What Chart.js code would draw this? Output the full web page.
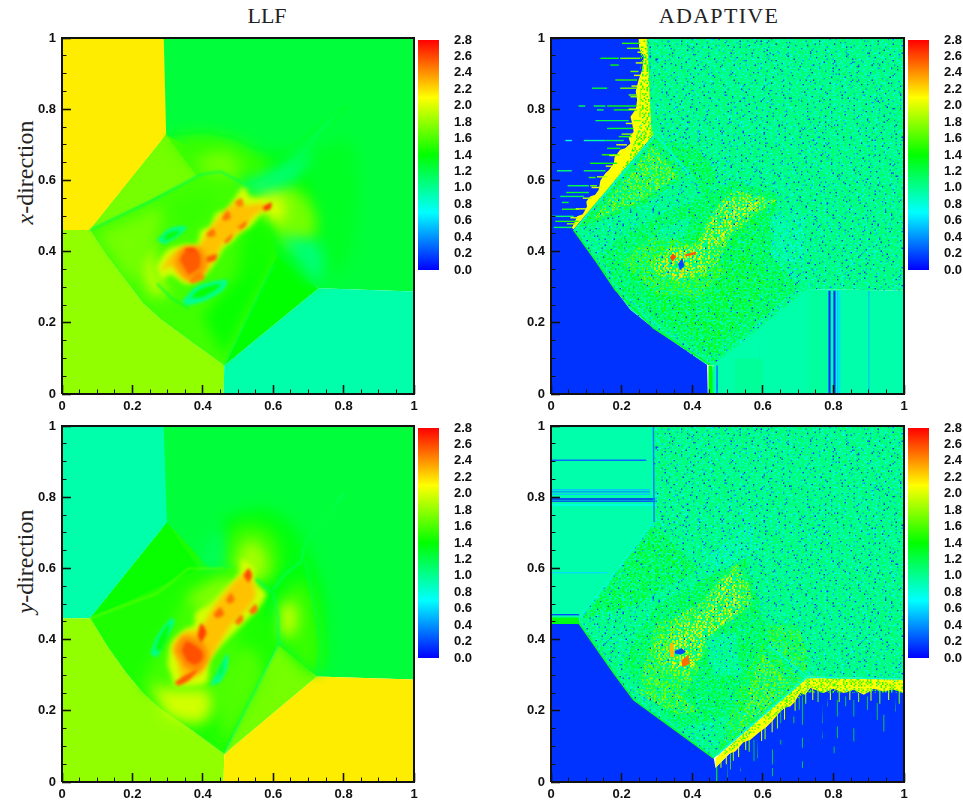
<!DOCTYPE html>
<html><head><meta charset="utf-8">
<script src="https://cdn.jsdelivr.net/npm/chart.js@4"></script>
<style>
html,body{margin:0;background:#fff;width:963px;height:800px;overflow:hidden}
canvas{position:absolute}
.t{position:absolute;font-family:"Liberation Serif",serif;color:#222;white-space:nowrap}
</style></head><body>
<div class="t" style="left:167px;width:200px;top:3px;text-align:center;font-size:22px">LLF</div>
<div class="t" style="left:619px;width:200px;top:3px;text-align:center;font-size:22px;letter-spacing:1.3px">ADAPTIVE</div>
<div class="t" style="left:-35px;width:120px;top:159px;text-align:center;font-size:24px;transform:rotate(-90deg)"><i>x</i>-direction</div>
<div class="t" style="left:-35px;width:120px;top:548px;text-align:center;font-size:24px;transform:rotate(-90deg)"><i>y</i>-direction</div>
<script>
// ---------- axes ----------
const majorTicks=[0,.2,.4,.6,.8,1];
const minorTicks=[.05,.1,.15,.25,.3,.35,.45,.5,.55,.65,.7,.75,.85,.9,.95];
const barTicks=[0,.2,.4,.6,.8,1,1.2,1.4,1.6,1.8,2,2.2,2.4,2.6,2.8];
const barRange=[0,2.8];
const cmapStops=[[0,[0,0,255]],[.7,[0,255,255]],[1.4,[0,255,0]],[2.1,[255,255,0]],[2.8,[255,0,0]]];
const frameX=[0,0,1,1,0], frameY=[0,1,1,0,0];
// ---------- LLF x-direction: [value, [x,y,x,y...]] ----------
const llfXFlat=[
[1.24,[.28,1,1,1,1,.288,.729,.297,.45,.5,.28,.72]],
[2.15,[0,1,.289,1,.296,.728,.079,.461,0,.461]],
[1.8,[0,.461,.079,.461,.13,.385,.18,.32,.23,.255,.28,.21,.37,.145,.461,.08,.459,0,0,0]],
[.93,[.459,0,.461,.08,.729,.297,1,.288,1,0]],
[1.58,[.296,.728,.079,.461,.13,.385,.18,.32,.23,.255,.28,.21,.37,.145,.461,.08,.61,.39,.56,.56,.5,.62]],
[1.72,[.296,.728,.079,.461,.384,.611]],
[1.4,[.461,.08,.61,.39,.729,.297]],
];
const llfXSoft=[
[1.36,[.5,.66,.68,.66,.76,.45,.72,.31,.62,.38,.54,.56]],
[1.3,[.7,.68,.82,.7,.82,.4,.74,.32]],
[1.55,[.3,.72,.4,.73,.5,.71,.56,.67,.6,.63,.52,.6,.39,.62]],
[1.72,[.38,.66,.46,.68,.5,.65,.5,.61,.4,.62]],
[1.95,[.215,.37,.255,.42,.27,.34,.3,.28,.25,.28]],
[1.72,[.1,.45,.2,.49,.28,.52,.26,.42,.2,.31]],
[1.55,[.3,.52,.38,.56,.44,.54,.36,.44]],
[1.72,[.54,.6,.66,.58,.72,.5,.7,.42,.63,.42,.58,.5]],
[2.0,[.57,.585,.63,.545,.62,.48,.57,.5]],
[1.08,[.615,.44,.73,.31,.735,.42,.66,.44]],
[1.45,[.51,.45,.56,.49,.6,.44,.6,.37,.5,.33]],
[1.42,[.4,.22,.47,.3,.55,.37,.6,.38,.461,.1]],
[1.08,[.5,.585,.6,.63,.7,.675,.66,.6,.56,.56]],
];
const llfXBand=[
[1.98,[.268,.358,.3,.405,.35,.42,.384,.422,.395,.46,.42,.47,.44,.51,.465,.515,.49,.55,.516,.582,.535,.555,.582,.548,.618,.508,.575,.512,.535,.47,.507,.455,.485,.43,.459,.41,.44,.377,.402,.33,.355,.308,.308,.335,.282,.32]],
[2.27,[.28,.345,.31,.39,.35,.41,.385,.41,.41,.45,.45,.5,.49,.535,.53,.53,.57,.535,.58,.52,.55,.505,.51,.46,.46,.425,.43,.375,.395,.335,.35,.32,.31,.36]],
[2.4,[.32,.37,.34,.41,.395,.41,.41,.35,.36,.32,.33,.35]],
];
const llfXFine=[
[2.55,[.335,.377,.35,.4,.39,.395,.39,.355,.36,.335]],
[2.6,[.35,.41,.375,.41,.385,.395,.35,.4]],
[2.55,[.41,.385,.44,.392,.435,.375,.41,.37]],
[2.48,[.41,.45,.43,.465,.435,.445,.415,.44]],
[2.48,[.455,.495,.47,.515,.48,.495,.46,.485]],
[2.45,[.49,.54,.51,.55,.515,.53,.5,.525]],
[2.65,[.57,.525,.595,.538,.592,.52,.575,.515]],
[2.5,[.5,.47,.525,.485,.52,.47,.505,.462]],
[2.5,[.46,.43,.485,.45,.48,.435,.465,.422]],
[2.45,[.36,.318,.39,.345,.405,.325,.37,.31]],
[1.02,[.27,.433,.308,.466,.355,.47,.327,.44,.289,.42]],
[1.42,[.288,.44,.31,.455,.335,.458,.315,.44,.295,.432]],
[1.0,[.341,.26,.384,.302,.469,.321,.459,.293,.402,.26,.355,.248]],
[1.42,[.365,.27,.39,.293,.45,.31,.44,.295,.4,.272]],
];
const llfXTrace=[
[1.18,[.079,.461,.25,.54,.39,.615,.45,.625,.52,.59]],
[1.3,[.296,.728,.41,.737,.49,.72,.55,.69,.615,.68,.665,.7,.735,.755,.8,.805]],
[1.15,[.52,.585,.6,.62,.68,.67,.75,.76,.8,.8]],
[1.25,[.27,.31,.31,.27,.36,.24]],
[1.25,[.6,.36,.57,.3,.461,.08]],
[1.3,[.77,.76,.79,.79,.82,.81]],
];
// ---------- LLF y-direction ----------
const llfYFlat=[
[1.24,[.28,1,1,1,1,.288,.724,.296,.45,.5,.28,.72]],
[.93,[0,1,.289,1,.298,.728,.08,.46,0,.46]],
[1.8,[0,.46,.08,.46,.13,.38,.18,.31,.23,.25,.28,.205,.37,.145,.461,.079,.459,0,0,0]],
[2.15,[.459,0,.461,.079,.724,.296,1,.288,1,0]],
[1.48,[.298,.728,.08,.46,.13,.38,.18,.31,.23,.25,.28,.205,.37,.145,.461,.079,.615,.385,.56,.6,.42,.6]],
[1.42,[.298,.728,.08,.46,.39,.6]],
[1.72,[.461,.079,.724,.296,.615,.385]],
];
const llfYSoft=[
[1.36,[.5,.62,.45,.72,.6,.76,.72,.6,.75,.4,.72,.31,.62,.4]],
[1.55,[.44,.62,.5,.72,.6,.7,.62,.6,.58,.56,.5,.58]],
[1.85,[.49,.61,.53,.68,.58,.64,.57,.57,.52,.58]],
[1.15,[.395,.6,.42,.68,.45,.72,.46,.6]],
[1.55,[.62,.39,.72,.31,.73,.42,.69,.56,.63,.54]],
[1.95,[.62,.41,.66,.42,.66,.5,.62,.5]],
[1.58,[.22,.27,.3,.42,.36,.52,.5,.55,.5,.4,.47,.2,.35,.18]],
[1.98,[.25,.27,.32,.26,.42,.25,.4,.17,.3,.18]],
[1.75,[.35,.52,.47,.58,.5,.54,.42,.46]],
[1.62,[.46,.1,.57,.3,.52,.38,.44,.28]],
];
const llfYBand=[
[1.98,[.3,.33,.31,.39,.35,.43,.375,.44,.38,.475,.42,.5,.47,.55,.505,.59,.51,.625,.545,.6,.55,.56,.58,.53,.56,.49,.51,.44,.44,.37,.42,.34,.41,.28,.36,.27,.32,.27]],
[2.27,[.33,.33,.315,.38,.35,.42,.39,.43,.43,.49,.47,.54,.51,.58,.53,.585,.55,.53,.53,.49,.48,.44,.43,.36,.41,.33,.39,.3,.34,.28]],
[2.42,[.32,.37,.345,.41,.4,.39,.415,.35,.39,.31,.35,.32]],
];
const llfYFine=[
[2.58,[.34,.37,.355,.395,.395,.37,.4,.35,.38,.33,.355,.34]],
[2.62,[.385,.41,.395,.445,.41,.42,.395,.39]],
[2.55,[.32,.28,.35,.3,.385,.315,.36,.285,.33,.27]],
[2.5,[.43,.47,.45,.49,.46,.47,.44,.46]],
[2.48,[.465,.51,.48,.53,.49,.51,.475,.5]],
[2.6,[.515,.58,.53,.6,.54,.58,.53,.56]],
[2.5,[.53,.48,.55,.5,.555,.48,.54,.47]],
[2.5,[.49,.45,.51,.47,.515,.455,.5,.44]],
[1.02,[.25,.36,.27,.41,.31,.46,.32,.45,.29,.39,.27,.35]],
[1.42,[.265,.37,.28,.41,.305,.445,.295,.4,.28,.37]],
[1.0,[.42,.27,.44,.31,.47,.36,.47,.32,.45,.28]],
[1.42,[.44,.29,.45,.32,.46,.345,.455,.31]],
];
const llfYTrace=[
[1.15,[.461,.08,.53,.22,.615,.385,.615,.46,.6,.53,.55,.57]],
[1.1,[.6,.54,.63,.58,.68,.62,.69,.67,.76,.76,.8,.81]],
[1.3,[.61,.57,.67,.64,.78,.79]],
[1.2,[.69,.62,.715,.51,.735,.39,.727,.3]],
[1.65,[.08,.46,.27,.53,.36,.6,.46,.6]],
];
// ---------- ADAPTIVE x-direction ----------
const adXFlat=[
[.14,[0,1,.3,1,.3,.72,.064,.461,0,.461]],
[.14,[0,.461,.064,.461,.13,.37,.182,.293,.225,.237,.291,.185,.442,.082,.444,0,0,0]],
[.93,[.444,0,.46,.08,.73,.295,1,.29,1,0]],
];
const adXSpeck=[
[1.1,[.27,1,1,1,1,.29,.73,.295,.46,.08,.442,.082,.291,.185,.225,.237,.182,.293,.13,.37,.064,.461,.28,.728,.276,.826]],
];
const adXSolid=[
[2.1,[.272,1,.28,.826,.284,.746,.29,.728,.064,.463,.059,.466,.066,.48,.074,.499,.09,.505,.102,.527,.1,.54,.111,.555,.125,.56,.135,.573,.14,.6,.154,.62,.165,.63,.178,.648,.18,.665,.196,.686,.21,.69,.225,.704,.22,.72,.234,.737,.23,.76,.225,.779,.24,.8,.244,.826,.24,.85,.248,.882,.258,.91,.263,.948,.25,.97,.248,1]],
];
const adXOver=[
[1.5,[.255,1,.272,1,.284,.746,.29,.728,.064,.463,.1,.48,.22,.66,.25,.75]],
[1.5,[.296,.72,.075,.465,.26,.53,.38,.61]],
[1.85,[.29,.7,.12,.49,.25,.54,.36,.61]],
[1.4,[.31,.71,.4,.62,.44,.55,.47,.62,.4,.7]],
[1.35,[.14,.39,.2,.44,.3,.5,.42,.55,.52,.6,.64,.56,.62,.4,.7,.3,.46,.09,.3,.2,.2,.29]],
[1.45,[.22,.34,.3,.44,.46,.5,.6,.5,.56,.38,.62,.3,.46,.12,.32,.22]],
[1.7,[.2,.37,.3,.46,.42,.41,.5,.35,.42,.27,.3,.28]],
[1.95,[.281,.368,.329,.41,.414,.424,.432,.471,.47,.527,.517,.573,.64,.545,.584,.508,.508,.442,.47,.368,.432,.33,.338,.321,.291,.34]],
[2.12,[.3,.36,.34,.4,.42,.41,.45,.48,.5,.55,.6,.54,.55,.5,.48,.43,.44,.36,.36,.33]],
[2.2,[.31,.36,.34,.4,.4,.39,.41,.34,.36,.31]],
[.82,[.62,.5,.72,.5,.72,.37,.63,.37]],
[.85,[.3,.46,.4,.5,.38,.44,.3,.43]],
];
const adXTop=[
[.2,[.36,.365,.372,.382,.378,.36,.365,.347]],
[2.6,[.337,.383,.345,.395,.355,.385,.345,.372]],
[2.55,[.38,.392,.41,.4,.41,.392,.38,.386]],
];
const adXTrace=[
[.85,[.296,.728,.068,.461]],[.85,[.3,.725,.39,.62]],[1.0,[.285,1,.291,.74,.296,.73]],
[.95,[.462,.08,.73,.296]],[1.3,[.064,.461,.13,.37,.182,.293,.291,.185,.452,.082]],
];
// streaks: value, y, x0, x1
const adXStreaks=[
[1.5,.985,.201,.253],[1.7,.971,.215,.253],[1.4,.943,.14,.192],[1.7,.943,.196,.253],[1.4,.924,.168,.192],[1.7,.906,.225,.248],[1.5,.882,.182,.244],[1.3,.859,.116,.159],[1.7,.859,.196,.244],[1.7,.84,.22,.244],[1.2,.809,.078,.097],[1.2,.809,.121,.154],[1.4,.809,.159,.244],[1.2,.798,.13,.149],[1.4,.798,.178,.244],[1.2,.768,.126,.22],[1.7,.768,.234,.253],[1.3,.746,.159,.234],[1.5,.723,.192,.229],[.75,.712,.041,.059],[.95,.712,.093,.154],[1.2,.712,.154,.206],[1.4,.69,.159,.196],[1.5,.672,.144,.192],[1.4,.648,.111,.187],[1.1,.627,.017,.059],[1.2,.627,.093,.154],[1.5,.608,.107,.126],[1.2,.585,.047,.107],[1.7,.585,.111,.13],[1.3,.566,.043,.107],[1.2,.555,.026,.093],[1.3,.538,.031,.05],[1.5,.519,.031,.078],[1.1,.499,.003,.064],[1.5,.485,.012,.078],[1.2,.468,.008,.059],
[2,.96,.245,.262],[2,.93,.24,.26],[2,.895,.235,.255],[2,.865,.228,.25],[1.8,.835,.225,.245],[2,.8,.22,.243],[2,.76,.212,.235],[1.8,.73,.2,.23],[2,.7,.185,.215],[1.9,.67,.165,.195],[2,.64,.155,.18],[1.9,.61,.13,.16],[2,.58,.115,.145],[1.9,.55,.09,.115],[2,.52,.07,.1],[2,.495,.055,.08],[1.8,.478,.045,.07],
];
// bars: value, x0, x1, y0, y1
const adXBars=[
[1.4,.446,.458,0,.08],[.35,.468,.473,0,.08],[.55,.59,.592,0,.16],[.12,.786,.792,0,.29],[.12,.8,.806,0,.29],[.55,.81,.814,0,.29],[.62,.815,.82,0,.29],[.5,.899,.902,0,.29],[.98,.52,.6,0,.1],[.97,.73,.78,0,.29],
];
// ---------- ADAPTIVE y-direction ----------
const adYFlat=[
[.93,[0,1,.3,1,.3,.72,.08,.46,0,.46]],
[1.35,[0,.462,.08,.462,.08,.444,0,.444]],
[.14,[0,.444,.081,.444,.13,.375,.178,.306,.234,.231,.461,.067,.466,.04,.725,.296,1,.289,1,0,0,0]],
];
const adYSpeck=[
[1.1,[.29,1,1,1,1,.289,.725,.296,.461,.067,.234,.231,.178,.306,.13,.375,.081,.444,.08,.46,.29,.73]],
];
const adYSolid=[
[2.1,[.466,.067,.725,.296,1,.289,1,.25,.97,.26,.942,.254,.915,.262,.886,.245,.857,.259,.829,.25,.8,.262,.772,.25,.735,.264,.72,.245,.706,.25,.69,.225,.678,.212,.665,.21,.65,.198,.63,.175,.612,.156,.59,.14,.565,.119,.545,.112,.522,.086,.505,.08,.489,.063,.466,.039]],
];
const adYOver=[
[1.6,[.466,.067,.725,.296,1,.289,1,.25,.72,.25,.5,.08]],
[1.4,[.29,.72,.09,.46,.25,.5,.33,.55,.42,.6]],
[1.35,[.2,.33,.3,.5,.55,.63,.62,.4,.55,.2,.36,.15]],
[.82,[.42,.61,.56,.725,.6,.66,.5,.6]],
[1.6,[.47,.08,.72,.285,.6,.39,.53,.26]],
[1.8,[.53,.14,.68,.27,.6,.36,.56,.26]],
[1.65,[.61,.44,.7,.44,.73,.35,.72,.3,.62,.38]],
[1.8,[.24,.25,.36,.19,.42,.2,.36,.25,.28,.3]],
[1.75,[.25,.28,.3,.45,.36,.46,.42,.32,.38,.25]],
[1.9,[.31,.42,.36,.47,.42,.5,.48,.57,.52,.62,.56,.56,.57,.5,.52,.46,.47,.43,.42,.34,.38,.28,.31,.32,.29,.38]],
[2.1,[.33,.38,.37,.44,.44,.48,.5,.58,.54,.56,.54,.49,.46,.42,.4,.32,.34,.32]],
[.88,[.44,.41,.52,.42,.54,.3,.46,.3]],
];
const adYTop=[
[.2,[.35,.368,.37,.376,.382,.366,.37,.358,.352,.36]],
[2.5,[.37,.342,.39,.358,.393,.332,.372,.322]],
[2.3,[.335,.385,.345,.395,.35,.35,.337,.352]],
];
const adYTrace=[
[.85,[.08,.46,.29,.73]],[1.3,[.08,.445,.178,.306,.234,.231,.46,.068]],[.8,[.47,.075,.725,.294,1,.289]],[.85,[.615,.385,.725,.296]],[.35,[.29,1,.292,.73]],
];
const adYStreaks=[
[.3,.904,0,.27],[.55,.821,0,.28],[.4,.815,0,.28],[.55,.808,0,.28],[.08,.795,0,.295],[.12,.789,0,.295],[.75,.778,0,.3],[.6,.588,0,.16],[.2,.47,0,.08],
];
const adYBars=[
[1.4,.468,.471,0,.053],[1.4,.499,.501,.002,.072],[1.7,.508,.51,.035,.09],[1.7,.536,.538,.03,.044],[1.4,.574,.576,.058,.119],[1.5,.584,.586,.067,.128],[1.4,.626,.628,.016,.039],[1.4,.626,.628,.049,.091],[1.4,.65,.652,.105,.119],[1.5,.65,.652,.165,.203],[1.5,.687,.689,.165,.184],[1.5,.702,.704,.203,.24],[1.4,.711,.713,.039,.058],[1.4,.711,.713,.096,.124],[1.4,.711,.713,.161,.24],[1.4,.768,.77,.123,.151],[1.4,.768,.77,.165,.222],[1.4,.801,.803,.081,.1],[1.4,.81,.812,.123,.156],[1.4,.81,.812,.184,.23],[1.4,.857,.859,.114,.151],[1.4,.857,.859,.184,.23],[1.5,.923,.925,.175,.222],[1.5,.942,.944,.142,.189],[1.5,.975,.977,.198,.24],[1.5,.782,.784,.213,.24],[1.5,.834,.836,.213,.24],[1.5,.895,.897,.203,.24],
[1.9,.48,.483,.04,.075],[2,.495,.498,.05,.08],[1.8,.515,.518,.06,.1],[2,.53,.533,.07,.11],[1.9,.55,.553,.09,.125],[1.7,.56,.563,.085,.13],[2,.595,.598,.115,.15],[1.8,.605,.608,.12,.16],[2,.625,.628,.14,.18],[1.8,.64,.643,.15,.2],[2,.66,.663,.175,.22],[1.9,.69,.693,.2,.24],[1.7,.72,.723,.22,.26],[2,.74,.743,.23,.265],[1.7,.755,.758,.225,.26],[2,.79,.793,.23,.26],[1.8,.815,.818,.225,.26],[2,.845,.848,.23,.26],[1.8,.87,.873,.225,.25],[2,.905,.908,.228,.26],[1.7,.93,.933,.22,.26],[2,.955,.958,.23,.26],[1.7,.985,.988,.22,.26],
];
// ---------- hand-typed speckle tile for noisy regions ----------
const speckTile=[
"..,.-..+..,..~...,.+..-.,..#..,..-.+.,.",
".,..~.,..-...,.+..o.,...,-..+.,...~..,-",
"-..+..,..#.,..-..,...~..+.,.-...,.o..,.",
"..,..-...,..+.~.,..-.,...o..,.+..-...,.",
".~.,...o.,-...,..+..,.-..,..~..,...#.,.",
"..+.-..,...,~..-.,..,.#...-.,..+.,..-..",
",..,..~.+.-...,...o.,..+.,...-.~..,.+..",
"..o.,...,..#..-.,.+..~.,...,...,-..,...",
".-..,.+.~.,...,..-..,...-.+..o.,...~.,.",
"...,..-..,..o.,+..~.,.#..,..-..,.+..,..",
",+..#.,...-..,..,...-.,.+..~.,..-..o.,.",
"..-...,.~..+.,.-.o..,...,..-.,#...,..-.",
".,..~.,..,...-..,.+.~.,.-..,...,..+.~.,",
"-..,.+.o.,..-.,.#...,..,.~..+.,.-..,...",
"..,.-...,..~.,..,.-..+.o.,...-.,..~.,.+",
".+..,.#..-.,...+.~.,...-.,..,.o...,.-..",
",..~.,...,.+..-..,..,#..+.-.,..,.~..,..",
"..-..,.o.,..,~..+.,.-...,.~..,.#..,.+.-",
".,.+..-.,..#.,..-.,..~.,..+.,.-..,..,..",
"~..,...~.,.-..+.,.o.,..-..,...,.+..#.,.",
"..o.,.+..,...,.-...,.+.#.,.~..-.,...,.-",
".,..-.,..~.+.,..#.,..-...,.+.,..~.,.o..",
"-.+..,..-.,..o..,.~..,.-.,..-..,+..,...",
"..,.~..,.#.,..-.+.,...,.o.,..~.,..-.,.+",
".#..,..+.,..~.,..,.-.+..,..-.,..o.,...,",
"..-.,.-...,.,.o..~.,...#.+.,..,...~.-.,",
];
const speckOffset={'.':0,',':-.12,'-':-.28,'~':-.45,'o':-.72,'#':-.98,'+':.14};

function col(v){v=Math.max(0,Math.min(2.8,v));
 for(let i=1;i<cmapStops.length;i++){const [a,ca]=cmapStops[i-1],[b,cb]=cmapStops[i];
  if(v<=b){const t=(v-a)/(b-a);return `rgb(${ca.map((c,k)=>Math.round(c+(cb[k]-c)*t)).join(',')})`}}
 return 'rgb(255,0,0)';}
const tileAt=(x,y)=>{const r=speckTile[y%speckTile.length];return r[x%r.length]||'.'};
function speck(v,overlay){const c=document.createElement('canvas'),s=1.5,N=170;
 c.width=c.height=N*s;const g=c.getContext('2d');
 if(!overlay){g.fillStyle=col(v);g.fillRect(0,0,c.width,c.height)}
 for(let y=0;y<N;y++)for(let x=0;x<N;x++){
  const a=tileAt(x+(y>>3),y),b=tileAt(x+11+(y>>1)+(y>>4),y+(x>>2));
  if(overlay){ if(b==='.'||b==='-')continue; g.fillStyle=col(v+speckOffset[a]*.7); }
  else g.fillStyle=col(v+Math.min(speckOffset[a],speckOffset[b]*.85));
  g.fillRect(x*s,y*s,s,s)}
 return g.createPattern(c,'repeat');}
const pts=a=>{const o=[];for(let i=0;i<a.length;i+=2)o.push({x:a[i],y:a[i+1]});return o};
const poly=(v,a,soft,bg,tension)=>({data:pts(a),showLine:true,fill:'shape',borderWidth:0,borderColor:'transparent',backgroundColor:bg||col(v),pointRadius:0,soft,tension:tension||0});
const trace=(v,a,w,soft)=>({data:pts(a),showLine:true,fill:false,borderWidth:w,borderColor:col(v),backgroundColor:col(v),pointRadius:0,soft});
function panel(g){const ds=[];
 (g.flat||[]).forEach(([v,a])=>ds.push(poly(v,a,.5)));
 (g.soft||[]).forEach(([v,a])=>ds.push(poly(v,a,7,null,.4)));
 (g.speck||[]).forEach(([v,a])=>ds.push(poly(v,a,.3,speck(v,false))));
 (g.band||[]).forEach(([v,a])=>ds.push(poly(v,a,2.6,null,.3)));
 (g.fine||[]).forEach(([v,a])=>ds.push(poly(v,a,1.8,null,.3)));
 (g.bars||[]).forEach(([v,x0,x1,y0,y1])=>ds.push(poly(v,[x0,y0,x1,y0,x1,y1,x0,y1],.3)));
 (g.solid||[]).forEach(([v,a])=>ds.push(poly(v,a,.6)));
 (g.over||[]).forEach(([v,a])=>ds.push(poly(v,a,.3,speck(v,true))));
 (g.top||[]).forEach(([v,a])=>ds.push(poly(v,a,.6)));
 (g.streaks||[]).forEach(([v,y,x0,x1])=>ds.push(trace(v,[x0,y,x1,y],1.4,.3)));
 (g.trace||[]).forEach(([v,a])=>ds.push(trace(v,a,1.5,g.traceSoft||.4)));
 ds.push({data:frameX.map((x,i)=>({x,y:frameY[i]})),showLine:true,fill:false,borderWidth:2,borderColor:'#111',pointRadius:0,clip:false,soft:0});
 return ds.reverse();} // Chart.js paints the last dataset first

const softPlugin={id:'soft',
 beforeDatasetsDraw(c){const d=c.data.datasets;c.ctx.save();setF(c,d.length-1)},
 afterDatasetDraw(c,a){setF(c,a.index-1)},
 afterDatasetsDraw(c){c.ctx.restore()}};
function setF(c,i){const d=c.data.datasets[i];c.ctx.filter=d&&d.soft?`blur(${d.soft}px)`:'none'}

const FONT={family:'"Liberation Sans",Arial,sans-serif',size:13,weight:'bold'};
const fmt=v=>String(+(+v).toFixed(1));
const noInset=s=>{s.paddingTop=s.paddingBottom=s.paddingLeft=s.paddingRight=0};
function mk(left,top,w,h){const c=document.createElement('canvas');c.width=w;c.height=h;c.style.cssText=`left:${left}px;top:${top}px;width:${w}px;height:${h}px`;document.body.appendChild(c);return c}
function field(left,top,plotW,ds){const c=mk(left-62,top-8,62+plotW+8,8+356+22);
 const axis=(arr,len,wid,lab,pad,size,dir)=>({type:'linear',min:0,max:1,position:dir,
  afterBuildTicks:s=>{s.ticks=arr.map(value=>({value}))},
  afterFit:s=>{if(dir==='bottom')s.height=size;else s.width=size;noInset(s)},
  border:{display:false},
  grid:{drawOnChartArea:false,drawTicks:true,tickLength:-len,tickWidth:wid,tickColor:'#111',z:1},
  ticks:{display:lab,autoSkip:false,maxRotation:0,font:FONT,color:'#111',padding:pad,callback:fmt}});
 new Chart(c,{type:'scatter',data:{datasets:ds},plugins:[softPlugin],options:{responsive:false,animation:false,
  layout:{autoPadding:false,padding:{left:0,top:8,right:8,bottom:0}},
  plugins:{legend:{display:false},tooltip:{enabled:false},title:{display:false}},
  scales:{
   xm:axis(minorTicks,4.5,1,false,0,0,'bottom'),
   ym:axis(minorTicks,4.5,1,false,0,0,'left'),
   x:axis(majorTicks,9,1.6,true,14,22,'bottom'),
   y:axis(majorTicks,9,1.6,true,15,62,'left')}}});}
function colorbar(left,top){const c=mk(left,top-10,21+42,250);
 new Chart(c,{type:'bar',data:{labels:['v'],datasets:[{data:[barRange],barPercentage:1,categoryPercentage:1,
  backgroundColor(x){const a=x.chart.chartArea;if(!a)return '#000';
   const g=x.chart.ctx.createLinearGradient(0,a.bottom,0,a.top);
   cmapStops.forEach(([v])=>g.addColorStop(v/2.8,col(v)));return g}}]},
  options:{responsive:false,animation:false,layout:{autoPadding:false,padding:{top:10,bottom:10}},
  plugins:{legend:{display:false},tooltip:{enabled:false}},
  scales:{x:{display:false},y:{position:'right',min:0,max:2.8,afterBuildTicks:s=>{s.ticks=barTicks.map(value=>({value}))},
   afterFit:s=>{s.width=42;noInset(s)},border:{display:false},grid:{display:false,drawTicks:false},
   ticks:{autoSkip:false,font:FONT,color:'#111',padding:15,callback:v=>(+v).toFixed(1)}}}}});}

field(62,38,352,panel({flat:llfXFlat,soft:llfXSoft,band:llfXBand,fine:llfXFine,trace:llfXTrace,traceSoft:.8}));
field(551,38,353,panel({flat:adXFlat,speck:adXSpeck,solid:adXSolid,bars:adXBars,over:adXOver,top:adXTop,streaks:adXStreaks,trace:adXTrace}));
field(62,426,352,panel({flat:llfYFlat,soft:llfYSoft,band:llfYBand,fine:llfYFine,trace:llfYTrace,traceSoft:.8}));
field(551,426,353,panel({flat:adYFlat,speck:adYSpeck,solid:adYSolid,bars:adYBars,over:adYOver,top:adYTop,streaks:adYStreaks,trace:adYTrace}));
colorbar(418,40);colorbar(908,40);colorbar(418,428);colorbar(908,428);
</script></body></html>
